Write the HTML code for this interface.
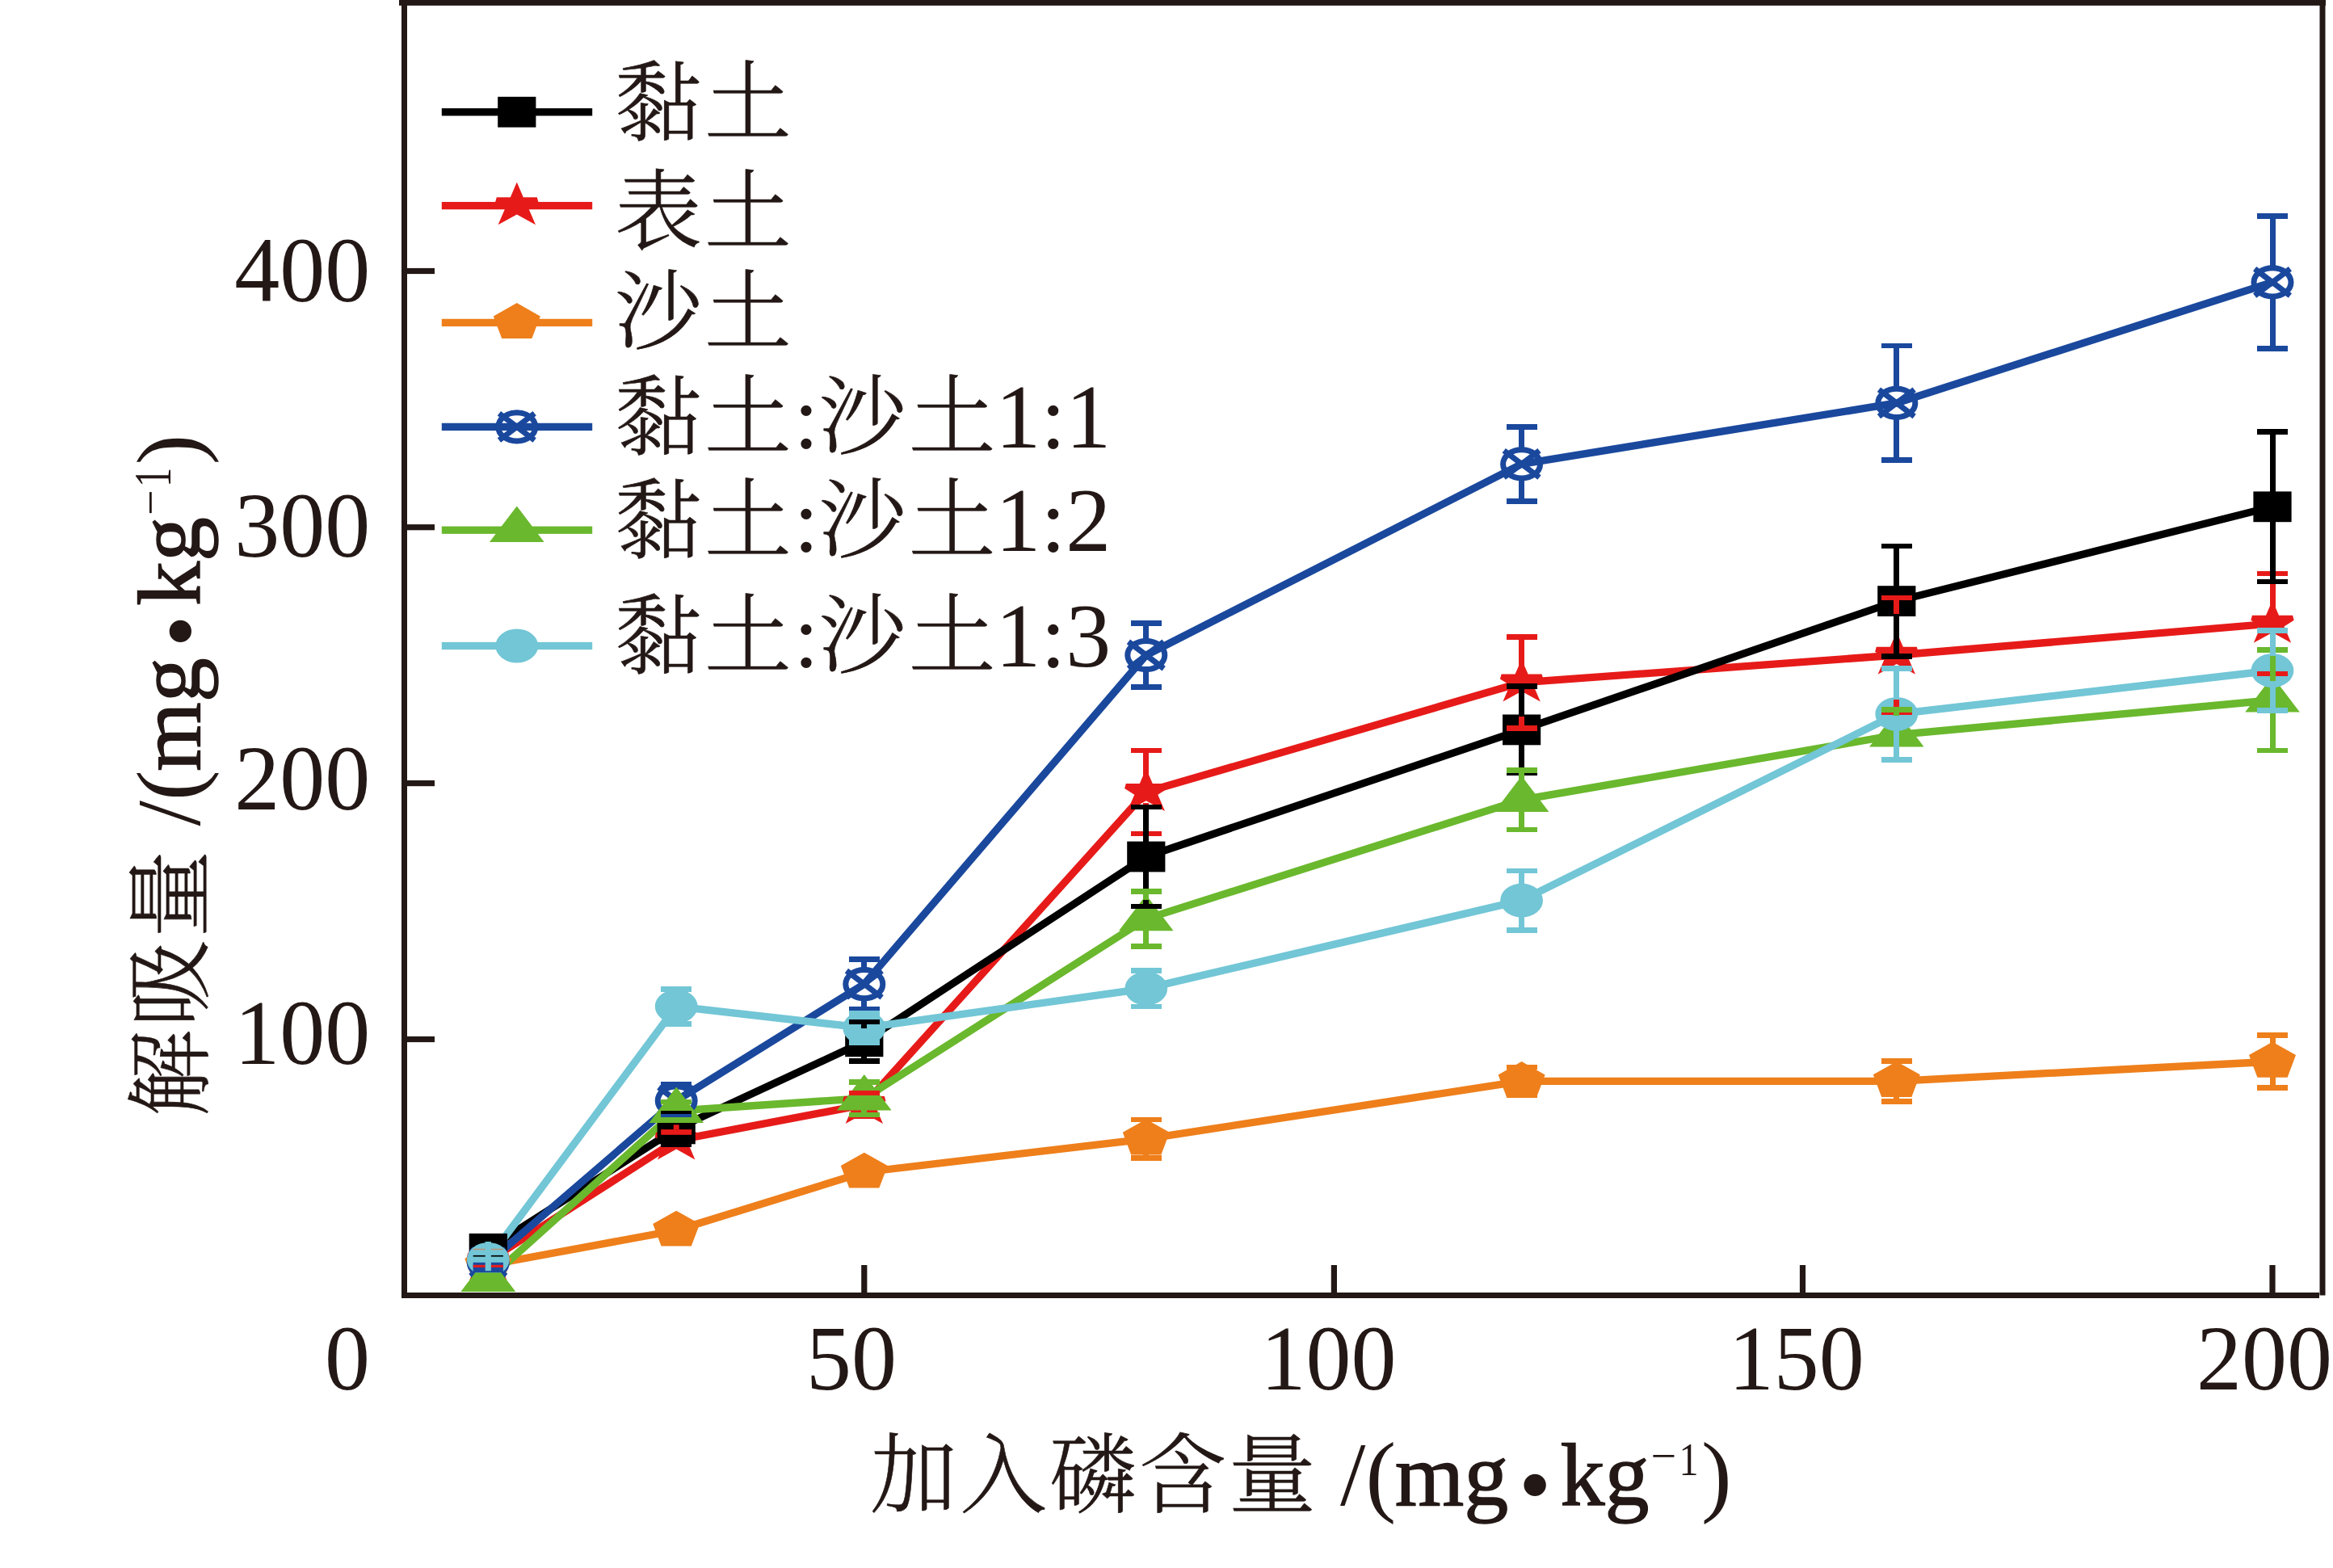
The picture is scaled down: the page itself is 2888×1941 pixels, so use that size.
<!DOCTYPE html>
<html lang="zh"><head><meta charset="utf-8"><title>解吸量</title>
<style>html,body{margin:0;padding:0;background:#fff}svg{display:block}</style></head>
<body>
<svg width="2888" height="1941" viewBox="0 0 2888 1941">
<rect width="2888" height="1941" fill="#fff"/>
<g fill="none" stroke-width="9.3" stroke-linejoin="miter" stroke-linecap="butt">
<polyline points="604.3,1561 837.2,1411.7 1069.8,1367.4 1418.8,980.4 1883.6,844.9 2347.8,811 2813,772" stroke="#E61B19"/>
<polyline points="604.3,1545.8 837.2,1397.4 1069.8,1289.3 1418.8,1060.5 1883.6,903.4 2347.8,744.1 2813,627.3" stroke="#000000"/>
<polyline points="604.3,1566 837.2,1523 1069.8,1451 1418.8,1409.8 1883.6,1338.4 2347.8,1338.3 2813,1314.1" stroke="#EE7F1B"/>
<polyline points="604.3,1563 837.2,1362.5 1069.8,1218.2 1418.8,811 1883.6,574.4 2347.8,498.9 2813,349.4" stroke="#1A489D"/>
<polyline points="604.3,1584 837.2,1375 1069.8,1359.6 1418.8,1137.4 1883.6,990.1 2347.8,909.7 2813,866.7" stroke="#6AB82D"/>
<polyline points="604.3,1559 837.2,1245.8 1069.8,1272.4 1418.8,1223.6 1883.6,1114.6 2347.8,883.9 2813,830" stroke="#72C6D6"/>
</g>
<g>
<polygon points="604.3,1532 612.3,1550.7 629.3,1550.7 631,1556.7 618.8,1564.4 627.5,1584.7 604.3,1571.9 581.1,1584.7 589.8,1564.4 577.6,1556.7 579.3,1550.7 596.3,1550.7" fill="#E61B19"/>
<polygon points="837.2,1382.7 845.2,1401.4 862.2,1401.4 863.9,1407.4 851.7,1415.1 860.4,1435.4 837.2,1422.6 814,1435.4 822.7,1415.1 810.5,1407.4 812.2,1401.4 829.2,1401.4" fill="#E61B19"/>
<polygon points="1069.8,1338.4 1077.8,1357.1 1094.8,1357.1 1096.5,1363.1 1084.3,1370.8 1093,1391.1 1069.8,1378.3 1046.6,1391.1 1055.3,1370.8 1043.1,1363.1 1044.8,1357.1 1061.8,1357.1" fill="#E61B19"/>
<polygon points="1418.8,951.4 1426.8,970.1 1443.8,970.1 1445.5,976.1 1433.3,983.8 1442,1004.1 1418.8,991.3 1395.6,1004.1 1404.3,983.8 1392.1,976.1 1393.8,970.1 1410.8,970.1" fill="#E61B19"/>
<polygon points="1883.6,815.9 1891.6,834.6 1908.6,834.6 1910.3,840.6 1898.1,848.3 1906.8,868.6 1883.6,855.8 1860.4,868.6 1869.1,848.3 1856.9,840.6 1858.6,834.6 1875.6,834.6" fill="#E61B19"/>
<polygon points="2347.8,782 2355.8,800.7 2372.8,800.7 2374.5,806.7 2362.3,814.4 2371,834.7 2347.8,821.9 2324.6,834.7 2333.3,814.4 2321.1,806.7 2322.8,800.7 2339.8,800.7" fill="#E61B19"/>
<polygon points="2813,743 2821,761.7 2838,761.7 2839.7,767.7 2827.5,775.4 2836.2,795.7 2813,782.9 2789.8,795.7 2798.5,775.4 2786.3,767.7 2788,761.7 2805,761.7" fill="#E61B19"/>
<rect x="580.7" y="1526.9" width="47.2" height="37.8" fill="#000000"/>
<rect x="813.6" y="1378.5" width="47.2" height="37.8" fill="#000000"/>
<rect x="1046.2" y="1270.4" width="47.2" height="37.8" fill="#000000"/>
<rect x="1395.2" y="1041.6" width="47.2" height="37.8" fill="#000000"/>
<rect x="1860" y="884.5" width="47.2" height="37.8" fill="#000000"/>
<rect x="2324.2" y="725.2" width="47.2" height="37.8" fill="#000000"/>
<rect x="2789.4" y="608.4" width="47.2" height="37.8" fill="#000000"/>
<polygon points="604.3,1541.7 633.3,1558 622.9,1585.6 585.7,1585.6 575.3,1558" fill="#EE7F1B"/>
<polygon points="837.2,1498.7 866.2,1515 855.8,1542.6 818.6,1542.6 808.2,1515" fill="#EE7F1B"/>
<polygon points="1069.8,1426.7 1098.8,1443 1088.4,1470.6 1051.2,1470.6 1040.8,1443" fill="#EE7F1B"/>
<polygon points="1418.8,1385.5 1447.8,1401.8 1437.4,1429.4 1400.2,1429.4 1389.8,1401.8" fill="#EE7F1B"/>
<polygon points="1883.6,1314.1 1912.6,1330.4 1902.2,1358 1865,1358 1854.6,1330.4" fill="#EE7F1B"/>
<polygon points="2347.8,1314 2376.8,1330.3 2366.4,1357.9 2329.2,1357.9 2318.8,1330.3" fill="#EE7F1B"/>
<polygon points="2813,1289.8 2842,1306.1 2831.6,1333.7 2794.4,1333.7 2784,1306.1" fill="#EE7F1B"/>
<g stroke="#1A489D" stroke-width="7" fill="none"><ellipse cx="604.3" cy="1563" rx="23" ry="17.6"/><path d="M582.4 1546.4L626.2 1579.6M582.4 1579.6L626.2 1546.4"/></g>
<g stroke="#1A489D" stroke-width="7" fill="none"><ellipse cx="837.2" cy="1362.5" rx="23" ry="17.6"/><path d="M815.3 1345.9L859.1 1379.1M815.3 1379.1L859.1 1345.9"/></g>
<g stroke="#1A489D" stroke-width="7" fill="none"><ellipse cx="1069.8" cy="1218.2" rx="23" ry="17.6"/><path d="M1047.9 1201.6L1091.7 1234.8M1047.9 1234.8L1091.7 1201.6"/></g>
<g stroke="#1A489D" stroke-width="7" fill="none"><ellipse cx="1418.8" cy="811" rx="23" ry="17.6"/><path d="M1396.9 794.4L1440.7 827.6M1396.9 827.6L1440.7 794.4"/></g>
<g stroke="#1A489D" stroke-width="7" fill="none"><ellipse cx="1883.6" cy="574.4" rx="23" ry="17.6"/><path d="M1861.7 557.8L1905.5 591M1861.7 591L1905.5 557.8"/></g>
<g stroke="#1A489D" stroke-width="7" fill="none"><ellipse cx="2347.8" cy="498.9" rx="23" ry="17.6"/><path d="M2325.9 482.3L2369.7 515.5M2325.9 515.5L2369.7 482.3"/></g>
<g stroke="#1A489D" stroke-width="7" fill="none"><ellipse cx="2813" cy="349.4" rx="23" ry="17.6"/><path d="M2791.1 332.8L2834.9 366M2791.1 366L2834.9 332.8"/></g>
<polygon points="604.3,1554.4 638.1,1598.9 570.5,1598.9" fill="#6AB82D"/>
<polygon points="837.2,1345.4 871,1389.9 803.4,1389.9" fill="#6AB82D"/>
<polygon points="1069.8,1330 1103.6,1374.5 1036,1374.5" fill="#6AB82D"/>
<polygon points="1418.8,1107.8 1452.6,1152.3 1385,1152.3" fill="#6AB82D"/>
<polygon points="1883.6,960.5 1917.4,1005 1849.8,1005" fill="#6AB82D"/>
<polygon points="2347.8,880.1 2381.6,924.6 2314,924.6" fill="#6AB82D"/>
<polygon points="2813,837.1 2846.8,881.6 2779.2,881.6" fill="#6AB82D"/>
<ellipse cx="604.3" cy="1559" rx="26.4" ry="21" fill="#72C6D6"/>
<ellipse cx="837.2" cy="1245.8" rx="26.4" ry="21" fill="#72C6D6"/>
<ellipse cx="1069.8" cy="1272.4" rx="26.4" ry="21" fill="#72C6D6"/>
<ellipse cx="1418.8" cy="1223.6" rx="26.4" ry="21" fill="#72C6D6"/>
<ellipse cx="1883.6" cy="1114.6" rx="26.4" ry="21" fill="#72C6D6"/>
<ellipse cx="2347.8" cy="883.9" rx="26.4" ry="21" fill="#72C6D6"/>
<ellipse cx="2813" cy="830" rx="26.4" ry="21" fill="#72C6D6"/>
</g>
<g shape-rendering="crispEdges">
<rect x="1066.3" y="1381.4" width="7" height="0.4" fill="#E61B19"/><rect x="1050.8" y="1349.7" width="38" height="6.6" fill="#E61B19"/><rect x="1050.8" y="1378.5" width="38" height="6.6" fill="#E61B19"/>
<rect x="1415.3" y="929" width="7" height="31.4" fill="#E61B19"/><rect x="1415.3" y="994.4" width="7" height="37.4" fill="#E61B19"/><rect x="1399.8" y="925.7" width="38" height="6.6" fill="#E61B19"/><rect x="1399.8" y="1028.5" width="38" height="6.6" fill="#E61B19"/>
<rect x="1880.1" y="788.2" width="7" height="36.7" fill="#E61B19"/><rect x="1880.1" y="858.9" width="7" height="42.7" fill="#E61B19"/><rect x="1864.6" y="784.9" width="38" height="6.6" fill="#E61B19"/><rect x="1864.6" y="898.3" width="38" height="6.6" fill="#E61B19"/>
<rect x="2344.3" y="740.1" width="7" height="50.9" fill="#E61B19"/><rect x="2344.3" y="825" width="7" height="56.9" fill="#E61B19"/><rect x="2328.8" y="736.8" width="38" height="6.6" fill="#E61B19"/><rect x="2328.8" y="878.6" width="38" height="6.6" fill="#E61B19"/>
<rect x="2809.5" y="710" width="7" height="42" fill="#E61B19"/><rect x="2809.5" y="786" width="7" height="48" fill="#E61B19"/><rect x="2794" y="706.7" width="38" height="6.6" fill="#E61B19"/><rect x="2794" y="830.7" width="38" height="6.6" fill="#E61B19"/>
<rect x="833.7" y="1378.6" width="7" height="2.8" fill="#000000"/><rect x="833.7" y="1413.4" width="7" height="2.8" fill="#000000"/><rect x="818.2" y="1375.3" width="38" height="6.6" fill="#000000"/><rect x="818.2" y="1412.9" width="38" height="6.6" fill="#000000"/>
<rect x="1066.3" y="1265" width="7" height="8.3" fill="#000000"/><rect x="1066.3" y="1305.3" width="7" height="8.3" fill="#000000"/><rect x="1050.8" y="1261.7" width="38" height="6.6" fill="#000000"/><rect x="1050.8" y="1310.3" width="38" height="6.6" fill="#000000"/>
<rect x="1415.3" y="999" width="7" height="45.5" fill="#000000"/><rect x="1415.3" y="1076.5" width="7" height="45.5" fill="#000000"/><rect x="1399.8" y="995.7" width="38" height="6.6" fill="#000000"/><rect x="1399.8" y="1118.7" width="38" height="6.6" fill="#000000"/>
<rect x="1880.1" y="849.7" width="7" height="37.7" fill="#000000"/><rect x="1880.1" y="919.4" width="7" height="37.7" fill="#000000"/><rect x="1864.6" y="846.4" width="38" height="6.6" fill="#000000"/><rect x="1864.6" y="953.8" width="38" height="6.6" fill="#000000"/>
<rect x="2344.3" y="675.9" width="7" height="52.2" fill="#000000"/><rect x="2344.3" y="760.1" width="7" height="52.2" fill="#000000"/><rect x="2328.8" y="672.6" width="38" height="6.6" fill="#000000"/><rect x="2328.8" y="809" width="38" height="6.6" fill="#000000"/>
<rect x="2809.5" y="534.6" width="7" height="76.7" fill="#000000"/><rect x="2809.5" y="643.3" width="7" height="76.7" fill="#000000"/><rect x="2794" y="531.3" width="38" height="6.6" fill="#000000"/><rect x="2794" y="716.7" width="38" height="6.6" fill="#000000"/>
<rect x="1415.3" y="1386" width="7" height="5.8" fill="#EE7F1B"/><rect x="1415.3" y="1424.8" width="7" height="8.8" fill="#EE7F1B"/><rect x="1399.8" y="1382.7" width="38" height="6.6" fill="#EE7F1B"/><rect x="1399.8" y="1430.3" width="38" height="6.6" fill="#EE7F1B"/>
<rect x="1880.1" y="1353.4" width="7" height="2.5" fill="#EE7F1B"/><rect x="1864.6" y="1317.6" width="38" height="6.6" fill="#EE7F1B"/><rect x="1864.6" y="1352.6" width="38" height="6.6" fill="#EE7F1B"/>
<rect x="2344.3" y="1313.3" width="7" height="7" fill="#EE7F1B"/><rect x="2344.3" y="1353.3" width="7" height="10" fill="#EE7F1B"/><rect x="2328.8" y="1310" width="38" height="6.6" fill="#EE7F1B"/><rect x="2328.8" y="1360" width="38" height="6.6" fill="#EE7F1B"/>
<rect x="2809.5" y="1281.5" width="7" height="14.6" fill="#EE7F1B"/><rect x="2809.5" y="1329.1" width="7" height="17.6" fill="#EE7F1B"/><rect x="2794" y="1278.2" width="38" height="6.6" fill="#EE7F1B"/><rect x="2794" y="1343.4" width="38" height="6.6" fill="#EE7F1B"/>
<rect x="833.7" y="1342.5" width="7" height="1" fill="#1A489D"/><rect x="833.7" y="1381.5" width="7" height="1" fill="#1A489D"/><rect x="818.2" y="1339.2" width="38" height="6.6" fill="#1A489D"/><rect x="818.2" y="1379.2" width="38" height="6.6" fill="#1A489D"/>
<rect x="1066.3" y="1187.6" width="7" height="11.6" fill="#1A489D"/><rect x="1066.3" y="1237.2" width="7" height="11.6" fill="#1A489D"/><rect x="1050.8" y="1184.3" width="38" height="6.6" fill="#1A489D"/><rect x="1050.8" y="1245.5" width="38" height="6.6" fill="#1A489D"/>
<rect x="1415.3" y="771.6" width="7" height="20.4" fill="#1A489D"/><rect x="1415.3" y="830" width="7" height="20.4" fill="#1A489D"/><rect x="1399.8" y="768.3" width="38" height="6.6" fill="#1A489D"/><rect x="1399.8" y="847.1" width="38" height="6.6" fill="#1A489D"/>
<rect x="1880.1" y="528.4" width="7" height="27" fill="#1A489D"/><rect x="1880.1" y="593.4" width="7" height="27" fill="#1A489D"/><rect x="1864.6" y="525.1" width="38" height="6.6" fill="#1A489D"/><rect x="1864.6" y="617.1" width="38" height="6.6" fill="#1A489D"/>
<rect x="2344.3" y="428.1" width="7" height="51.8" fill="#1A489D"/><rect x="2344.3" y="517.9" width="7" height="51.8" fill="#1A489D"/><rect x="2328.8" y="424.8" width="38" height="6.6" fill="#1A489D"/><rect x="2328.8" y="566.4" width="38" height="6.6" fill="#1A489D"/>
<rect x="2809.5" y="267.2" width="7" height="63.2" fill="#1A489D"/><rect x="2809.5" y="368.4" width="7" height="63.2" fill="#1A489D"/><rect x="2794" y="263.9" width="38" height="6.6" fill="#1A489D"/><rect x="2794" y="428.3" width="38" height="6.6" fill="#1A489D"/>
<rect x="818.2" y="1360.7" width="38" height="6.6" fill="#6AB82D"/><rect x="818.2" y="1382.7" width="38" height="6.6" fill="#6AB82D"/>
<rect x="1066.3" y="1371.6" width="7" height="8.4" fill="#6AB82D"/><rect x="1050.8" y="1335.9" width="38" height="6.6" fill="#6AB82D"/><rect x="1050.8" y="1376.7" width="38" height="6.6" fill="#6AB82D"/>
<rect x="1415.3" y="1103.5" width="7" height="10.5" fill="#6AB82D"/><rect x="1415.3" y="1149.4" width="7" height="21.9" fill="#6AB82D"/><rect x="1399.8" y="1100.2" width="38" height="6.6" fill="#6AB82D"/><rect x="1399.8" y="1168" width="38" height="6.6" fill="#6AB82D"/>
<rect x="1880.1" y="953.4" width="7" height="13.3" fill="#6AB82D"/><rect x="1880.1" y="1002.1" width="7" height="24.7" fill="#6AB82D"/><rect x="1864.6" y="950.1" width="38" height="6.6" fill="#6AB82D"/><rect x="1864.6" y="1023.5" width="38" height="6.6" fill="#6AB82D"/>
<rect x="2344.3" y="878.7" width="7" height="7.6" fill="#6AB82D"/><rect x="2344.3" y="921.7" width="7" height="19" fill="#6AB82D"/><rect x="2328.8" y="875.4" width="38" height="6.6" fill="#6AB82D"/><rect x="2328.8" y="937.4" width="38" height="6.6" fill="#6AB82D"/>
<rect x="2809.5" y="804.3" width="7" height="39" fill="#6AB82D"/><rect x="2809.5" y="878.7" width="7" height="50.4" fill="#6AB82D"/><rect x="2794" y="801" width="38" height="6.6" fill="#6AB82D"/><rect x="2794" y="925.8" width="38" height="6.6" fill="#6AB82D"/>
<rect x="833.7" y="1224.4" width="7" height="3.8" fill="#72C6D6"/><rect x="833.7" y="1263.4" width="7" height="3.8" fill="#72C6D6"/><rect x="818.2" y="1221.1" width="38" height="6.6" fill="#72C6D6"/><rect x="818.2" y="1263.9" width="38" height="6.6" fill="#72C6D6"/>
<rect x="1066.3" y="1254.4" width="7" height="0.4" fill="#72C6D6"/><rect x="1066.3" y="1290" width="7" height="0.4" fill="#72C6D6"/><rect x="1050.8" y="1251.1" width="38" height="6.6" fill="#72C6D6"/><rect x="1050.8" y="1287.1" width="38" height="6.6" fill="#72C6D6"/>
<rect x="1415.3" y="1201.4" width="7" height="4.6" fill="#72C6D6"/><rect x="1415.3" y="1241.2" width="7" height="4.6" fill="#72C6D6"/><rect x="1399.8" y="1198.1" width="38" height="6.6" fill="#72C6D6"/><rect x="1399.8" y="1242.5" width="38" height="6.6" fill="#72C6D6"/>
<rect x="1880.1" y="1078" width="7" height="19" fill="#72C6D6"/><rect x="1880.1" y="1132.2" width="7" height="19" fill="#72C6D6"/><rect x="1864.6" y="1074.7" width="38" height="6.6" fill="#72C6D6"/><rect x="1864.6" y="1147.9" width="38" height="6.6" fill="#72C6D6"/>
<rect x="2344.3" y="827.5" width="7" height="38.8" fill="#72C6D6"/><rect x="2344.3" y="901.5" width="7" height="38.8" fill="#72C6D6"/><rect x="2328.8" y="824.2" width="38" height="6.6" fill="#72C6D6"/><rect x="2328.8" y="937" width="38" height="6.6" fill="#72C6D6"/>
<rect x="2809.5" y="780.5" width="7" height="31.9" fill="#72C6D6"/><rect x="2809.5" y="847.6" width="7" height="31.9" fill="#72C6D6"/><rect x="2794" y="777.2" width="38" height="6.6" fill="#72C6D6"/><rect x="2794" y="876.2" width="38" height="6.6" fill="#72C6D6"/>
</g>
<g>
<rect x="585.7" y="1545.7" width="37.2" height="1.6" fill="#b9967a"/>
<rect x="585.7" y="1553.9" width="37.2" height="1.7" fill="#000000"/>
<rect x="585.7" y="1562.8" width="37.2" height="12.6" fill="#1A489D"/>
<rect x="585.7" y="1565.8" width="37.2" height="3.1" fill="#E61B19"/>
<rect x="600.7" y="1537" width="7.2" height="36.2" fill="#72C6D6"/>
<polygon points="588.5,1575.4 620.1,1575.4 638.1,1598.9 570.5,1598.9" fill="#6AB82D"/>
<rect x="818.2" y="1398.1" width="38" height="6.7" fill="#E61B19"/>
<rect x="833.7" y="1392.3" width="7" height="5.9" fill="#E61B19"/>
</g>
<g fill="#231815">
<rect x="494" y="0" width="2385" height="6.9" fill="#231815"/>
<rect x="497" y="0" width="7" height="1603.5" fill="#231815"/>
<rect x="2871.5" y="0" width="7" height="1603.5" fill="#231815"/>
<rect x="497" y="1600" width="2374" height="7" fill="#231815"/>
<rect x="500" y="1282.9" width="38" height="7.2" fill="#231815"/>
<rect x="500" y="966" width="38" height="7.2" fill="#231815"/>
<rect x="500" y="649.1" width="38" height="7.2" fill="#231815"/>
<rect x="500" y="331.9" width="38" height="7.2" fill="#231815"/>
<rect x="1066.2" y="1566" width="7.2" height="37" fill="#231815"/>
<rect x="1647.8" y="1566" width="7.2" height="37" fill="#231815"/>
<rect x="2227.9" y="1566" width="7.2" height="37" fill="#231815"/>
<rect x="2809.4" y="1566" width="7.2" height="37" fill="#231815"/>
</g>
<g font-family="'Liberation Serif', 'Noto Serif CJK SC', serif" font-size="112" fill="#231815">
<text transform="translate(458.3 373) scale(1 1.02)" text-anchor="end">400</text>
<text transform="translate(458.3 689.4) scale(1 1.02)" text-anchor="end">300</text>
<text transform="translate(458.3 1002.4) scale(1 1.02)" text-anchor="end">200</text>
<text transform="translate(458.3 1317.1) scale(1 1.02)" text-anchor="end">100</text>
<text transform="translate(402 1719.8) scale(1 1.02)">0</text>
<text transform="translate(998 1719.8) scale(1 1.02)">50</text>
<text transform="translate(1560.5 1719.8) scale(1 1.02)">100</text>
<text transform="translate(2139.8 1719.8) scale(1 1.02)">150</text>
<text transform="translate(2719 1719.8) scale(1 1.02)">200</text>
<text x="761" y="165.1"><tspan font-size="108" font-weight="300" letter-spacing="3" stroke="#231815" stroke-width="0.6">黏土</tspan></text>
<text x="761" y="300.2"><tspan font-size="108" font-weight="300" letter-spacing="3" stroke="#231815" stroke-width="0.6">表土</tspan></text>
<text x="761" y="423.9"><tspan font-size="108" font-weight="300" letter-spacing="3" stroke="#231815" stroke-width="0.6">沙土</tspan></text>
<text x="761" y="554.3"><tspan font-size="108" font-weight="300" letter-spacing="3" stroke="#231815" stroke-width="0.6">黏土</tspan><tspan dx="-0.5">:</tspan><tspan font-size="108" font-weight="300" letter-spacing="3" stroke="#231815" stroke-width="0.6">沙土</tspan><tspan dx="-3.5">1:1</tspan></text>
<text x="761" y="682.1"><tspan font-size="108" font-weight="300" letter-spacing="3" stroke="#231815" stroke-width="0.6">黏土</tspan><tspan dx="-0.5">:</tspan><tspan font-size="108" font-weight="300" letter-spacing="3" stroke="#231815" stroke-width="0.6">沙土</tspan><tspan dx="-3.5">1:2</tspan></text>
<text x="761" y="825.4"><tspan font-size="108" font-weight="300" letter-spacing="3" stroke="#231815" stroke-width="0.6">黏土</tspan><tspan dx="-0.5">:</tspan><tspan font-size="108" font-weight="300" letter-spacing="3" stroke="#231815" stroke-width="0.6">沙土</tspan><tspan dx="-3.5">1:3</tspan></text>
<text x="1077" y="1864"><tspan font-size="108" font-weight="300" letter-spacing="3" stroke="#231815" stroke-width="0.6">加入磷含量</tspan></text>
<text x="1659" y="1862.6" font-size="113">/(</text><text x="1726.8" y="1862.6" font-size="110" stroke="#231815" stroke-width="1.4">mg</text><text x="1880.1" y="1876.2" font-size="115">•</text><text x="1931.6" y="1862.6" font-size="110" stroke="#231815" stroke-width="1.4">kg</text><text x="2043.6" y="1820.6" font-size="56">−</text><text transform="translate(2078.5 1826.2) scale(0.86 1)" font-size="56">1</text><text x="2106" y="1862.6" font-size="113">)</text>
<g transform="translate(246.9,1384) rotate(-90)">
<text x="1.5" y="1.8"><tspan font-size="108" font-weight="300" letter-spacing="3" stroke="#231815" stroke-width="0.6">解吸量</tspan></text>
<text x="361.5" y="0" font-size="113">/(</text><text x="429.3" y="0" font-size="110" stroke="#231815" stroke-width="1.4">mg</text><text x="582.6" y="13.6" font-size="115">•</text><text x="634.1" y="0" font-size="110" stroke="#231815" stroke-width="1.4">kg</text><text x="746.1" y="-42" font-size="56">−</text><text transform="translate(781 -36.4) scale(0.86 1.16)" font-size="56">1</text><text x="808.5" y="0" font-size="113">)</text>
</g>
</g>
<rect x="546.8" y="134.05" width="186.4" height="9.3" fill="#000000"/>
<rect x="616.2" y="119.8" width="47.2" height="37.8" fill="#000000"/>
<rect x="546.8" y="249.95" width="186.4" height="9.3" fill="#E61B19"/>
<polygon points="639.8,225.6 647.8,244.3 664.8,244.3 666.5,250.3 654.3,258 663,278.3 639.8,265.5 616.6,278.3 625.3,258 613.1,250.3 614.8,244.3 631.8,244.3" fill="#E61B19"/>
<rect x="546.8" y="394.75" width="186.4" height="9.3" fill="#EE7F1B"/>
<polygon points="639.8,375.1 668.8,391.4 658.4,419 621.2,419 610.8,391.4" fill="#EE7F1B"/>
<rect x="546.8" y="523.75" width="186.4" height="9.3" fill="#1A489D"/>
<g stroke="#1A489D" stroke-width="7" fill="none"><ellipse cx="639.8" cy="528.4" rx="23" ry="17.6"/><path d="M617.9 511.8L661.7 545M617.9 545L661.7 511.8"/></g>
<rect x="546.8" y="651.55" width="186.4" height="9.3" fill="#6AB82D"/>
<polygon points="639.8,626.6 673.6,671.1 606,671.1" fill="#6AB82D"/>
<rect x="546.8" y="794.85" width="186.4" height="9.3" fill="#72C6D6"/>
<ellipse cx="639.8" cy="799.5" rx="26.4" ry="21" fill="#72C6D6"/>
</svg>
</body></html>
